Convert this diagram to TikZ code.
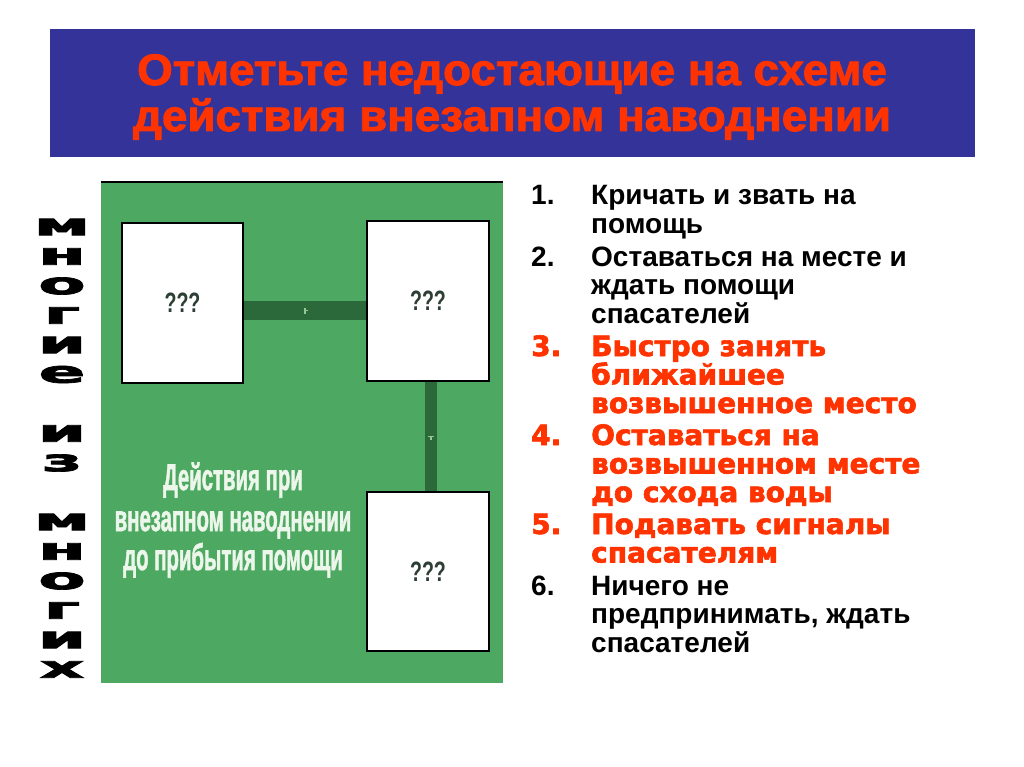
\documentclass[tikz,border=0pt]{standalone}
\usepackage{fontspec}
\setmainfont{Liberation Sans}
\newfontfamily\heavy{DejaVu Sans}[BoldFeatures={FakeBold=2.2}]
\newfontfamily\arfb{Liberation Sans}[BoldFeatures={FakeBold=2}]
\usetikzlibrary{decorations.markings}
\definecolor{hblue}{RGB}{51,51,153}
\definecolor{hred}{RGB}{255,51,0}
\definecolor{pgreen}{RGB}{77,168,98}
\definecolor{dgreen}{RGB}{43,104,58}
\definecolor{mkgreen}{RGB}{150,200,150}
\definecolor{qgray}{RGB}{45,62,52}
\definecolor{ptextc}{RGB}{236,246,234}
\begin{document}
\begin{tikzpicture}[x=1pt,y=-1pt,
  hdr/.style={font=\arfb\bfseries\fontsize{44}{45}\selectfont, text=hred, anchor=base, inner sep=0},
  blk/.style={font=\bfseries\fontsize{28}{28}\selectfont, text=black, anchor=base west, inner sep=0},
  redline/.style={font=\heavy\bfseries\fontsize{28}{28}\selectfont, text=hred, anchor=base west, inner sep=0},
  vlet/.style={font=\heavy\bfseries\fontsize{30}{30}\selectfont, text=black, inner sep=0},
  qbox/.style={draw=black, line width=1.6pt, fill=white, inner sep=0, text=qgray,
    font=\bfseries\fontsize{28}{28}\selectfont},
  ptext/.style={font=\arfb\bfseries\fontsize{37}{37}\selectfont, text=ptextc, anchor=base, inner sep=0},
  mk/.style={draw=mkgreen, line width=1.2pt},
  hbar/.style={draw=dgreen, line width=19pt, postaction={decorate},
    decoration={markings, mark=at position 0.5 with {\draw[mk] (0pt,-3pt)--(0pt,3pt) (0pt,0pt)--(3pt,0pt);}}},
  vbar/.style={draw=dgreen, line width=12pt, postaction={decorate},
    decoration={markings, mark=at position 0.5 with {\draw[mk] (0pt,-3pt)--(0pt,3pt) (0pt,0pt)--(3pt,0pt);}}}
]
\useasboundingbox (0,0) rectangle (1024,767);
\fill[white] (0,0) rectangle (1024,767);

% header
\node[fill=hblue, minimum width=925, minimum height=128, inner sep=0] (header) at (512.5,93) {};
\node[hdr] (t1) at (512,85) {\scalebox{1.04}[1]{Отметьте недостающие на схеме}};
\node[hdr] (t2) at (512,131) {\scalebox{1.04}[1]{действия внезапном наводнении}};

% vertical text
\foreach \ch/\yy [count=\i] in {м/227, н/256.5, о/286, г/315.5, и/345, е/374.5, и/433.5, з/463, м/522, н/551.5, о/581, г/610.5, и/640, х/669.5}
  \node[vlet] (v\i) at (62,\yy) {\scalebox{2.3}[1.0]{\ch}};

% green panel
\node[fill=pgreen, minimum width=402, minimum height=501, anchor=north west, inner sep=0] (panel) at (101,182) {};
\draw[line width=2pt] (panel.north west) -- (panel.north east);

\node[qbox, minimum width=121, minimum height=160] (b1) at (182.5,303) {\scalebox{0.7}[1]{???}};
\node[qbox, minimum width=122, minimum height=160] (b2) at (428,301) {\scalebox{0.7}[1]{???}};
\node[qbox, minimum width=122, minimum height=159] (b3) at (428,571.5) {\scalebox{0.7}[1]{???}};

\draw[hbar] ([yshift=-7.5pt]b1.east) coordinate (h1) -- (h1 -| b2.west);
\draw[vbar] ([xshift=3pt]b2.south) coordinate (w1) -- (w1 |- b3.north);

\node[ptext] (p1) at (233,490) {\scalebox{0.55}[1]{Действия при}};
\node[ptext] (p2) at (233,531) {\scalebox{0.55}[1]{внезапном наводнении}};
\node[ptext] (p3) at (233,570) {\scalebox{0.55}[1]{до прибытия помощи}};

% list
\node[blk] (n1) at (531,205) {1.};
\node[blk] (l1a) at (591,205) {Кричать и звать на};
\node[blk] (l1b) at (591,233.5) {помощь};
\node[blk] (n2) at (531,266) {2.};
\node[blk] (l2a) at (591,266) {Оставаться на месте и};
\node[blk] (l2b) at (591,294.5) {ждать помощи};
\node[blk] (l2c) at (591,323) {спасателей};
\node[redline] (n3) at (531,356) {3.};
\node[redline] (l3a) at (591,356) {Быстро занять};
\node[redline] (l3b) at (591,384.5) {ближайшее};
\node[redline] (l3c) at (591,413) {возвышенное место};
\node[redline] (n4) at (531,445) {4.};
\node[redline] (l4a) at (591,445) {Оставаться на};
\node[redline] (l4b) at (591,473.5) {возвышенном месте};
\node[redline] (l4c) at (591,502) {до схода воды};
\node[redline] (n5) at (531,534) {5.};
\node[redline] (l5a) at (591,534) {Подавать сигналы};
\node[redline] (l5b) at (591,562.5) {спасателям};
\node[blk] (n6) at (531,595) {6.};
\node[blk] (l6a) at (591,595) {Ничего не};
\node[blk] (l6b) at (591,623.5) {предпринимать, ждать};
\node[blk] (l6c) at (591,652) {спасателей};
\end{tikzpicture}
\end{document}
